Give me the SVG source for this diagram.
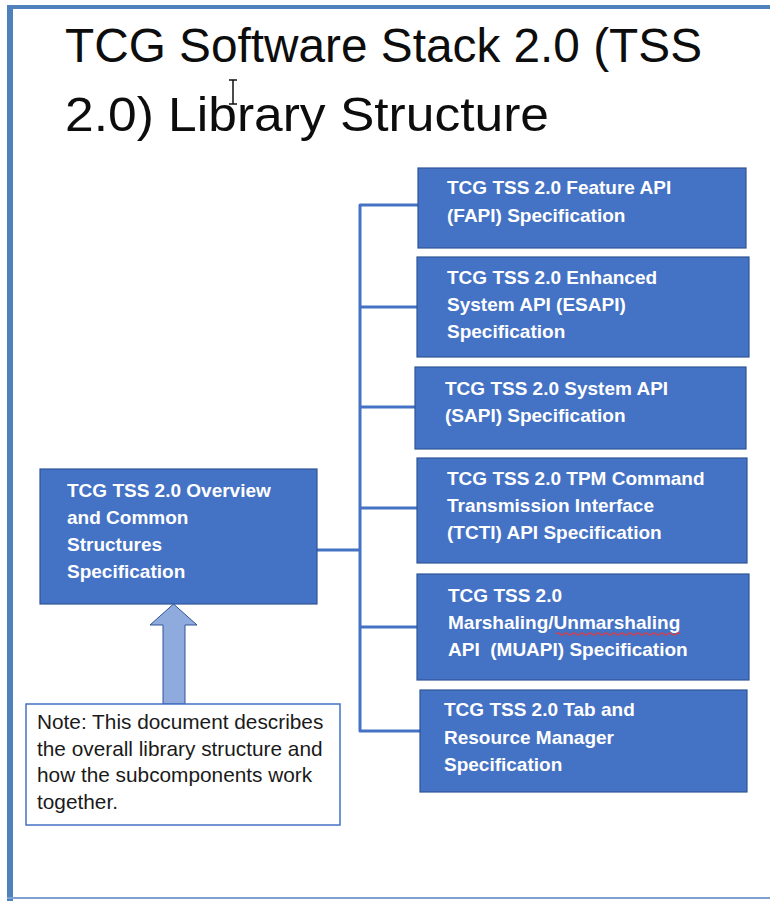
<svg xmlns="http://www.w3.org/2000/svg" width="770" height="901" viewBox="0 0 770 901">
<style>
.box{fill:#4472C4;stroke:#2F5597;stroke-width:1.2}
.bt{font-family:"Liberation Sans",Arial,sans-serif;font-weight:bold;font-size:19px;fill:#FFFFFF}
.nt{font-family:"Liberation Sans",Arial,sans-serif;font-size:20.8px;fill:#1a1a1a}
.title{font-family:"Liberation Sans",Arial,sans-serif;font-size:48px;fill:#0d0d0d}
.conn{fill:none;stroke:#4472C4;stroke-width:3;stroke-linejoin:round}
</style>
<rect x="0" y="0" width="770" height="901" fill="#FFFFFF"/>
<g id="frame">
<rect x="7" y="5" width="763" height="4" fill="#4F81BD"/>
<rect x="7" y="5" width="6" height="896" fill="#4F81BD"/>
<rect x="7" y="897" width="763" height="2" fill="#7DA1D0"/>
</g>
<g id="title">
<text class="title" x="65" y="62" textLength="637" lengthAdjust="spacingAndGlyphs">TCG Software Stack 2.0 (TSS</text>
<text class="title" x="65" y="131" textLength="484" lengthAdjust="spacingAndGlyphs">2.0) Library Structure</text>
<path d="M229,80 h8 M233,80 v24 M229,104 h8" stroke="#111" stroke-width="1.5" fill="none"/>
</g>
<g id="connectors">
<path class="conn" d="M418,205 H360 V731 H420"/>
<path class="conn" d="M360,307 H417"/>
<path class="conn" d="M360,407 H415"/>
<path class="conn" d="M360,508 H417"/>
<path class="conn" d="M360,627 H417"/>
<path class="conn" d="M317,550 H360"/>
<path d="M163,704 V625 H150 L173.5,604 L197,625 H185 V704 Z" fill="#8FAADC" stroke="#2F5597" stroke-width="1"/>
</g>
<g id="overview">
<rect class="box" x="40" y="469" width="277" height="135"/>
<text class="bt" x="67" y="497">TCG TSS 2.0 Overview</text>
<text class="bt" x="67" y="524">and Common</text>
<text class="bt" x="67" y="551">Structures</text>
<text class="bt" x="67" y="578">Specification</text>
</g>
<g id="note">
<rect x="26" y="704" width="314" height="121" fill="#FFFFFF" stroke="#4472C4" stroke-width="1.5"/>
<text class="nt" x="37" y="729">Note: This document describes</text>
<text class="nt" x="37" y="756">the overall library structure and</text>
<text class="nt" x="37" y="782">how the subcomponents work</text>
<text class="nt" x="37" y="809">together.</text>
</g>
<g id="fapi">
<rect class="box" x="418" y="168" width="328" height="80"/>
<text class="bt" x="447" y="194">TCG TSS 2.0 Feature API</text>
<text class="bt" x="447" y="222">(FAPI) Specification</text>
</g>
<g id="esapi">
<rect class="box" x="417" y="257" width="332" height="100"/>
<text class="bt" x="447" y="284">TCG TSS 2.0 Enhanced</text>
<text class="bt" x="447" y="311">System API (ESAPI)</text>
<text class="bt" x="447" y="338">Specification</text>
</g>
<g id="sapi">
<rect class="box" x="415" y="367" width="331" height="82"/>
<text class="bt" x="445" y="395">TCG TSS 2.0 System API</text>
<text class="bt" x="445" y="422">(SAPI) Specification</text>
</g>
<g id="tcti">
<rect class="box" x="417" y="458" width="330" height="105"/>
<text class="bt" x="447" y="485">TCG TSS 2.0 TPM Command</text>
<text class="bt" x="447" y="512">Transmission Interface</text>
<text class="bt" x="447" y="539">(TCTI) API Specification</text>
</g>
<g id="muapi">
<rect class="box" x="417" y="574" width="332" height="106"/>
<text class="bt" x="448" y="602">TCG TSS 2.0</text>
<text class="bt" x="448" y="629">Marshaling/Unmarshaling</text>
<text class="bt" x="448" y="656" xml:space="preserve">API  (MUAPI) Specification</text>
<path d="M556,634 q2,-2 4,0 t4,0 t4,0 t4,0 t4,0 t4,0 t4,0 t4,0 t4,0 t4,0 t4,0 t4,0 t4,0 t4,0 t4,0 t4,0 t4,0 t4,0 t4,0 t4,0 t4,0 t4,0 t4,0 t4,0 t4,0 t4,0 t4,0 t4,0 t4,0 t4,0 t4,0" fill="none" stroke="#D04050" stroke-width="1.2"/>
</g>
<g id="tab">
<rect class="box" x="420" y="690" width="327" height="102"/>
<text class="bt" x="444" y="716">TCG TSS 2.0 Tab and</text>
<text class="bt" x="444" y="744">Resource Manager</text>
<text class="bt" x="444" y="771">Specification</text>
</g>
</svg>
